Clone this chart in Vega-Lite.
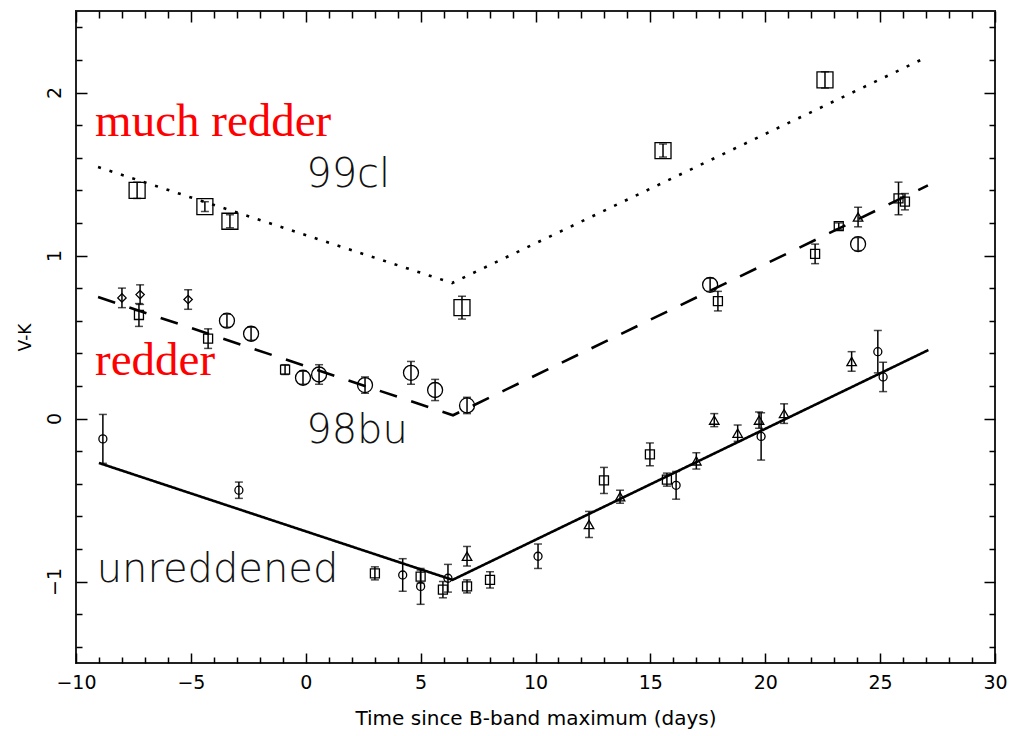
{
  "$schema": "https://vega.github.io/schema/vega-lite/v6.json",
  "width": 919,
  "height": 652,
  "autosize": "none",
  "padding": {"left": 76, "top": 11, "right": 14, "bottom": 73},
  "background": "white",
  "config": {
    "view": {"stroke": "#222", "strokeWidth": 2},
    "axis": {
      "grid": false,
      "domain": false,
      "tickColor": "black",
      "tickWidth": 1.5,
      "labelFont": "DejaVu Sans",
      "labelFontSize": 19,
      "labelColor": "black",
      "titleFont": "DejaVu Sans",
      "titleFontWeight": "normal",
      "titleColor": "black",
      "labelFlush": false,
      "labelOverlap": false
    }
  },
  "datasets": {
    "lines": [
      {"fit": "99cl", "x": -9.04, "y": 1.543},
      {"fit": "99cl", "x": 6.37, "y": 0.831},
      {"fit": "99cl", "x": 27.0, "y": 2.215},
      {"fit": "98bu", "x": -9.04, "y": 0.745},
      {"fit": "98bu", "x": 6.41, "y": 0.02},
      {"fit": "98bu", "x": 27.08, "y": 1.43},
      {"fit": "unreddened", "x": -9.0, "y": -0.273},
      {"fit": "unreddened", "x": 6.39, "y": -0.99},
      {"fit": "unreddened", "x": 27.1, "y": 0.42}
    ],
    "points": [
      {"sn": "99cl", "m": "bigsquare", "x": -7.34, "y": 1.40, "e": 0.05},
      {"sn": "99cl", "m": "bigsquare", "x": -4.39, "y": 1.30, "e": 0.03},
      {"sn": "99cl", "m": "bigsquare", "x": -3.30, "y": 1.21, "e": 0.04},
      {"sn": "99cl", "m": "bigsquare", "x": 6.80, "y": 0.68, "e": 0.07},
      {"sn": "99cl", "m": "bigsquare", "x": 15.55, "y": 1.644, "e": 0.04},
      {"sn": "99cl", "m": "bigsquare", "x": 22.6, "y": 2.077, "e": 0.05},

      {"sn": "98bu", "m": "diamond", "x": -8.0, "y": 0.74, "e": 0.06},
      {"sn": "98bu", "m": "diamond", "x": -7.21, "y": 0.76, "e": 0.06},
      {"sn": "98bu", "m": "diamond", "x": -5.12, "y": 0.73, "e": 0.06},
      {"sn": "98bu", "m": "square", "x": -7.26, "y": 0.635, "e": 0.07},
      {"sn": "98bu", "m": "square", "x": -4.25, "y": 0.49, "e": 0.06},
      {"sn": "98bu", "m": "square", "x": -0.90, "y": 0.30, "e": 0.03},
      {"sn": "98bu", "m": "square", "x": 17.94, "y": 0.72, "e": 0.06},
      {"sn": "98bu", "m": "square", "x": 22.17, "y": 1.01, "e": 0.06},
      {"sn": "98bu", "m": "square", "x": 23.2, "y": 1.18, "e": 0.02},
      {"sn": "98bu", "m": "square", "x": 25.8, "y": 1.35, "e": 0.10},
      {"sn": "98bu", "m": "square", "x": 26.08, "y": 1.33, "e": 0.05},
      {"sn": "98bu", "m": "bigcircle", "x": -3.43, "y": 0.60, "e": 0.04},
      {"sn": "98bu", "m": "bigcircle", "x": -2.38, "y": 0.52, "e": 0.04},
      {"sn": "98bu", "m": "bigcircle", "x": -0.12, "y": 0.25, "e": 0.04},
      {"sn": "98bu", "m": "bigcircle", "x": 0.58, "y": 0.27, "e": 0.06},
      {"sn": "98bu", "m": "bigcircle", "x": 2.58, "y": 0.205, "e": 0.05},
      {"sn": "98bu", "m": "bigcircle", "x": 4.58, "y": 0.28, "e": 0.07},
      {"sn": "98bu", "m": "bigcircle", "x": 5.63, "y": 0.175, "e": 0.065},
      {"sn": "98bu", "m": "bigcircle", "x": 7.02, "y": 0.08, "e": 0.05},
      {"sn": "98bu", "m": "bigcircle", "x": 17.6, "y": 0.82, "e": 0.04},
      {"sn": "98bu", "m": "bigcircle", "x": 24.04, "y": 1.07, "e": 0.04},
      {"sn": "98bu", "m": "triangle", "x": 24.04, "y": 1.236, "e": 0.06},

      {"sn": "unreddened", "m": "circle", "x": -8.83, "y": -0.125, "e": 0.15},
      {"sn": "unreddened", "m": "circle", "x": -2.91, "y": -0.44, "e": 0.05},
      {"sn": "unreddened", "m": "circle", "x": 4.22, "y": -0.96, "e": 0.10},
      {"sn": "unreddened", "m": "circle", "x": 5.0, "y": -1.03, "e": 0.11},
      {"sn": "unreddened", "m": "circle", "x": 6.19, "y": -0.98, "e": 0.085},
      {"sn": "unreddened", "m": "circle", "x": 10.11, "y": -0.845, "e": 0.075},
      {"sn": "unreddened", "m": "circle", "x": 16.12, "y": -0.41, "e": 0.085},
      {"sn": "unreddened", "m": "circle", "x": 19.82, "y": -0.11, "e": 0.145},
      {"sn": "unreddened", "m": "circle", "x": 24.9, "y": 0.41, "e": 0.13},
      {"sn": "unreddened", "m": "circle", "x": 25.13, "y": 0.255, "e": 0.09},
      {"sn": "unreddened", "m": "square", "x": 3.01, "y": -0.95, "e": 0.04},
      {"sn": "unreddened", "m": "square", "x": 5.0, "y": -0.97, "e": 0.04},
      {"sn": "unreddened", "m": "square", "x": 5.97, "y": -1.05, "e": 0.05},
      {"sn": "unreddened", "m": "square", "x": 7.02, "y": -1.03, "e": 0.04},
      {"sn": "unreddened", "m": "square", "x": 8.02, "y": -0.99, "e": 0.05},
      {"sn": "unreddened", "m": "square", "x": 12.98, "y": -0.38, "e": 0.08},
      {"sn": "unreddened", "m": "square", "x": 14.98, "y": -0.22, "e": 0.07},
      {"sn": "unreddened", "m": "square", "x": 15.72, "y": -0.375, "e": 0.04},
      {"sn": "unreddened", "m": "triangle", "x": 7.02, "y": -0.845, "e": 0.06},
      {"sn": "unreddened", "m": "triangle", "x": 12.33, "y": -0.65, "e": 0.08},
      {"sn": "unreddened", "m": "triangle", "x": 13.68, "y": -0.48, "e": 0.04},
      {"sn": "unreddened", "m": "triangle", "x": 17.0, "y": -0.26, "e": 0.05},
      {"sn": "unreddened", "m": "triangle", "x": 17.78, "y": -0.01, "e": 0.04},
      {"sn": "unreddened", "m": "triangle", "x": 18.8, "y": -0.09, "e": 0.05},
      {"sn": "unreddened", "m": "triangle", "x": 19.73, "y": -0.01, "e": 0.05},
      {"sn": "unreddened", "m": "triangle", "x": 20.82, "y": 0.03, "e": 0.06},
      {"sn": "unreddened", "m": "triangle", "x": 23.76, "y": 0.35, "e": 0.06}
    ],
    "redlabels": [
      {"x": -9.17, "y": 1.733, "t": "much redder"},
      {"x": -9.17, "y": 0.267, "t": "redder"}
    ],
    "labels": [
      {"x": 0.02, "y": 1.42, "t": "99cl"},
      {"x": 0.02, "y": -0.15, "t": "98bu"},
      {"x": -9.1, "y": -1.0, "t": "unreddened"}
    ]
  },
  "resolve": {"axis": {"x": "independent", "y": "independent"}},
  "layer": [
    {
      "data": {"name": "lines"},
      "mark": {"type": "line", "color": "black", "strokeWidth": 2.6},
      "encoding": {
        "x": {"field": "x", "type": "quantitative",
              "scale": {"domain": [-10, 30], "nice": false, "zero": false},
              "axis": {"orient": "bottom", "values": [-10, -5, 0, 5, 10, 15, 20, 25, 30], "tickSize": -10,
                       "labelPadding": 20, "title": "Time since B-band maximum (days)", "titleFontSize": 20, "titlePadding": 16}},
        "y": {"field": "y", "type": "quantitative",
              "scale": {"domain": [-1.5, 2.5], "nice": false, "zero": false},
              "axis": {"orient": "left", "values": [-1, 0, 1, 2], "tickSize": -11, "labelAngle": -90,
                       "labelAlign": "center", "labelBaseline": "bottom", "labelPadding": 23,
                       "title": "V-K", "titleFontSize": 17, "titlePadding": 11}},
        "strokeDash": {"field": "fit", "type": "nominal",
                       "scale": {"domain": ["unreddened", "98bu", "99cl"], "range": [[1, 0], [18, 15], [3, 9]]},
                       "legend": null}
      }
    },
    {
      "data": {"name": "points"},
      "mark": {"type": "errorbar", "ticks": {"size": 8}, "thickness": 1.5, "color": "black"},
      "encoding": {
        "x": {"field": "x", "type": "quantitative", "scale": {"domain": [-10, 30], "nice": false, "zero": false}, "axis": null},
        "y": {"field": "y", "type": "quantitative", "scale": {"domain": [-1.5, 2.5], "nice": false, "zero": false}, "axis": null},
        "yError": {"field": "e"}
      }
    },
    {
      "data": {"name": "points"},
      "mark": {"type": "point", "filled": false, "color": "black", "strokeWidth": 1.3, "opacity": 1},
      "encoding": {
        "x": {"field": "x", "type": "quantitative",
              "scale": {"domain": [-10, 30], "nice": false, "zero": false},
              "axis": {"orient": "top", "values": [-10, -5, 0, 5, 10, 15, 20, 25, 30], "tickSize": -11, "labels": false, "title": null}},
        "y": {"field": "y", "type": "quantitative",
              "scale": {"domain": [-1.5, 2.5], "nice": false, "zero": false},
              "axis": {"orient": "right", "values": [-1, 0, 1, 2], "tickSize": -11, "labels": false, "title": null}},
        "shape": {"field": "m", "type": "nominal",
                  "scale": {"domain": ["bigsquare", "bigcircle", "square", "circle", "triangle", "diamond"],
                            "range": ["square", "circle", "square", "circle", "triangle-up", "diamond"]},
                  "legend": null},
        "size": {"field": "m", "type": "nominal",
                 "scale": {"type": "ordinal", "domain": ["bigsquare", "bigcircle", "square", "circle", "triangle", "diamond"],
                           "range": [256, 225, 81, 64, 90, 70]},
                 "legend": null}
      }
    },
    {
      "data": {"name": "redlabels"},
      "mark": {"type": "text", "align": "left", "baseline": "alphabetic", "font": "Liberation Serif", "fontSize": 47, "color": "#ff0000"},
      "encoding": {
        "x": {"field": "x", "type": "quantitative",
              "scale": {"domain": [-10, 30], "nice": false, "zero": false},
              "axis": {"orient": "bottom", "values": [-9, -8, -7, -6, -4, -3, -2, -1, 1, 2, 3, 4, 6, 7, 8, 9, 11, 12, 13, 14, 16, 17, 18, 19, 21, 22, 23, 24, 26, 27, 28, 29],
                       "tickSize": -6, "labels": false, "title": null}},
        "y": {"field": "y", "type": "quantitative",
              "scale": {"domain": [-1.5, 2.5], "nice": false, "zero": false},
              "axis": {"orient": "left", "values": [-1.4, -1.2, -0.8, -0.6, -0.4, -0.2, 0.2, 0.4, 0.6, 0.8, 1.2, 1.4, 1.6, 1.8, 2.2, 2.4],
                       "tickSize": -6, "labels": false, "title": null}},
        "text": {"field": "t"}
      }
    },
    {
      "data": {"name": "labels"},
      "mark": {"type": "text", "align": "left", "baseline": "alphabetic", "font": "DejaVu Sans", "fontWeight": 200, "fontSize": 40, "color": "#111"},
      "encoding": {
        "x": {"field": "x", "type": "quantitative",
              "scale": {"domain": [-10, 30], "nice": false, "zero": false},
              "axis": {"orient": "top", "values": [-9, -8, -7, -6, -4, -3, -2, -1, 1, 2, 3, 4, 6, 7, 8, 9, 11, 12, 13, 14, 16, 17, 18, 19, 21, 22, 23, 24, 26, 27, 28, 29],
                       "tickSize": -7, "labels": false, "title": null}},
        "y": {"field": "y", "type": "quantitative",
              "scale": {"domain": [-1.5, 2.5], "nice": false, "zero": false},
              "axis": {"orient": "right", "values": [-1.4, -1.2, -0.8, -0.6, -0.4, -0.2, 0.2, 0.4, 0.6, 0.8, 1.2, 1.4, 1.6, 1.8, 2.2, 2.4],
                       "tickSize": -6, "labels": false, "title": null}},
        "text": {"field": "t"}
      }
    }
  ]
}
